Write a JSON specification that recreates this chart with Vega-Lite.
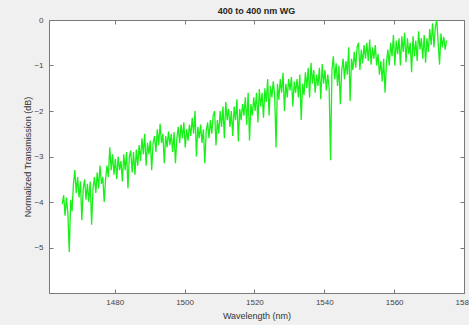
{
"$schema": "https://vega.github.io/schema/vega-lite/v6.json",
"width": 415, "height": 273,
"autosize": {"type": "none"},
"padding": {"left": 49, "top": 20, "right": 5, "bottom": 32},
"background": "#f0f0f0",
"config": {"view": {"fill": "white", "stroke": "#7a7a7a"}, "font": "Liberation Sans"},
"title": {"text": "400 to 400 nm WG", "fontSize": 9, "fontWeight": "bold", "color": "#262626", "offset": 0, "anchor": "middle"},
"data": {"values": [
{"w":1465.0,"t":-4.05},{"w":1465.4,"t":-3.85},{"w":1465.8,"t":-4.3},{"w":1466.2,"t":-3.9},{"w":1466.6,"t":-4.25},
{"w":1467.0,"t":-5.1},{"w":1467.4,"t":-3.95},{"w":1467.8,"t":-4.2},{"w":1468.2,"t":-3.6},{"w":1468.6,"t":-3.3},
{"w":1469.0,"t":-3.8},{"w":1469.4,"t":-3.45},{"w":1469.8,"t":-3.9},{"w":1470.2,"t":-3.55},{"w":1470.6,"t":-4.4},
{"w":1471.0,"t":-3.7},{"w":1471.4,"t":-3.5},{"w":1471.8,"t":-3.95},{"w":1472.2,"t":-3.6},{"w":1472.6,"t":-4.0},
{"w":1473.0,"t":-3.55},{"w":1473.4,"t":-4.5},{"w":1473.8,"t":-3.7},{"w":1474.2,"t":-3.45},{"w":1474.6,"t":-3.8},
{"w":1475.0,"t":-3.35},{"w":1475.4,"t":-3.7},{"w":1475.8,"t":-3.2},{"w":1476.2,"t":-3.6},{"w":1476.6,"t":-3.45},
{"w":1477.0,"t":-4.0},{"w":1477.4,"t":-3.5},{"w":1477.8,"t":-3.2},{"w":1478.2,"t":-3.45},{"w":1478.6,"t":-2.8},
{"w":1479.0,"t":-3.3},{"w":1479.4,"t":-2.95},{"w":1479.8,"t":-3.4},{"w":1480.2,"t":-3.05},{"w":1480.6,"t":-3.5},
{"w":1481.0,"t":-3.0},{"w":1481.4,"t":-3.3},{"w":1481.8,"t":-3.1},{"w":1482.2,"t":-3.55},{"w":1482.6,"t":-2.95},
{"w":1483.0,"t":-3.3},{"w":1483.4,"t":-2.9},{"w":1483.8,"t":-3.7},{"w":1484.2,"t":-3.0},{"w":1484.6,"t":-2.87},
{"w":1485.0,"t":-3.35},{"w":1485.4,"t":-2.9},{"w":1485.8,"t":-3.4},{"w":1486.2,"t":-2.85},{"w":1486.6,"t":-3.2},
{"w":1487.0,"t":-2.75},{"w":1487.4,"t":-3.1},{"w":1487.8,"t":-2.6},{"w":1488.2,"t":-2.95},{"w":1488.6,"t":-2.5},
{"w":1489.0,"t":-3.2},{"w":1489.4,"t":-2.7},{"w":1489.8,"t":-2.95},{"w":1490.2,"t":-2.65},{"w":1490.6,"t":-3.3},
{"w":1491.0,"t":-2.7},{"w":1491.4,"t":-2.55},{"w":1491.8,"t":-2.9},{"w":1492.2,"t":-2.4},{"w":1492.6,"t":-2.75},
{"w":1493.0,"t":-2.28},{"w":1493.4,"t":-2.7},{"w":1493.8,"t":-2.5},{"w":1494.2,"t":-3.15},{"w":1494.6,"t":-2.55},
{"w":1495.0,"t":-2.8},{"w":1495.4,"t":-2.45},{"w":1495.8,"t":-2.75},{"w":1496.2,"t":-2.5},{"w":1496.6,"t":-2.9},
{"w":1497.0,"t":-2.46},{"w":1497.4,"t":-3.15},{"w":1497.8,"t":-2.6},{"w":1498.2,"t":-2.35},{"w":1498.6,"t":-2.7},
{"w":1499.0,"t":-2.3},{"w":1499.4,"t":-2.6},{"w":1499.8,"t":-2.25},{"w":1500.2,"t":-2.8},{"w":1500.6,"t":-2.4},
{"w":1501.0,"t":-2.65},{"w":1501.4,"t":-2.3},{"w":1501.8,"t":-2.55},{"w":1502.2,"t":-2.15},{"w":1502.6,"t":-2.5},
{"w":1503.0,"t":-2.0},{"w":1503.4,"t":-3.0},{"w":1503.8,"t":-2.35},{"w":1504.2,"t":-2.6},{"w":1504.6,"t":-2.3},
{"w":1505.0,"t":-2.7},{"w":1505.4,"t":-2.4},{"w":1505.8,"t":-3.15},{"w":1506.2,"t":-2.45},{"w":1506.6,"t":-2.25},
{"w":1507.0,"t":-2.6},{"w":1507.4,"t":-2.2},{"w":1507.8,"t":-2.5},{"w":1508.2,"t":-2.1},{"w":1508.6,"t":-2.0},
{"w":1509.0,"t":-2.76},{"w":1509.4,"t":-2.2},{"w":1509.8,"t":-2.5},{"w":1510.2,"t":-2.0},{"w":1510.6,"t":-2.35},
{"w":1511.0,"t":-1.9},{"w":1511.4,"t":-2.6},{"w":1511.8,"t":-1.8},{"w":1512.2,"t":-2.2},{"w":1512.6,"t":-1.95},
{"w":1513.0,"t":-2.35},{"w":1513.4,"t":-2.0},{"w":1513.8,"t":-2.55},{"w":1514.2,"t":-1.9},{"w":1514.6,"t":-2.2},
{"w":1515.0,"t":-1.74},{"w":1515.4,"t":-2.67},{"w":1515.8,"t":-1.95},{"w":1516.2,"t":-2.2},{"w":1516.6,"t":-1.85},
{"w":1517.0,"t":-2.1},{"w":1517.4,"t":-1.7},{"w":1517.8,"t":-2.3},{"w":1518.2,"t":-1.6},{"w":1518.6,"t":-2.65},
{"w":1519.0,"t":-1.85},{"w":1519.4,"t":-2.1},{"w":1519.8,"t":-1.7},{"w":1520.2,"t":-2.0},{"w":1520.6,"t":-1.6},
{"w":1521.0,"t":-2.25},{"w":1521.4,"t":-1.52},{"w":1521.8,"t":-1.9},{"w":1522.2,"t":-1.6},{"w":1522.6,"t":-2.15},
{"w":1523.0,"t":-1.5},{"w":1523.4,"t":-1.8},{"w":1523.8,"t":-1.3},{"w":1524.2,"t":-2.1},{"w":1524.6,"t":-1.45},
{"w":1525.0,"t":-1.7},{"w":1525.4,"t":-1.35},{"w":1525.8,"t":-1.65},{"w":1526.2,"t":-2.8},{"w":1526.6,"t":-1.4},
{"w":1527.0,"t":-1.75},{"w":1527.4,"t":-1.3},{"w":1527.8,"t":-1.6},{"w":1528.2,"t":-1.16},{"w":1528.6,"t":-2.0},
{"w":1529.0,"t":-1.4},{"w":1529.4,"t":-1.7},{"w":1529.8,"t":-1.3},{"w":1530.2,"t":-1.55},{"w":1530.6,"t":-1.25},
{"w":1531.0,"t":-1.9},{"w":1531.4,"t":-1.35},{"w":1531.8,"t":-1.6},{"w":1532.2,"t":-1.3},{"w":1532.6,"t":-1.7},
{"w":1533.0,"t":-1.2},{"w":1533.4,"t":-2.2},{"w":1533.8,"t":-1.4},{"w":1534.2,"t":-1.65},{"w":1534.6,"t":-1.15},
{"w":1535.0,"t":-1.5},{"w":1535.4,"t":-1.05},{"w":1535.8,"t":-1.7},{"w":1536.2,"t":-0.94},{"w":1536.6,"t":-1.4},
{"w":1537.0,"t":-1.1},{"w":1537.4,"t":-1.6},{"w":1537.8,"t":-1.2},{"w":1538.2,"t":-1.45},{"w":1538.6,"t":-1.05},
{"w":1539.0,"t":-1.74},{"w":1539.4,"t":-0.97},{"w":1539.8,"t":-1.4},{"w":1540.2,"t":-1.1},{"w":1540.6,"t":-1.55},
{"w":1541.0,"t":-1.2},{"w":1541.4,"t":-1.5},{"w":1541.8,"t":-3.08},{"w":1542.2,"t":-1.1},{"w":1542.6,"t":-0.8},
{"w":1543.0,"t":-1.3},{"w":1543.4,"t":-0.95},{"w":1543.8,"t":-1.45},{"w":1544.2,"t":-1.0},{"w":1544.6,"t":-1.85},
{"w":1545.0,"t":-1.1},{"w":1545.4,"t":-0.85},{"w":1545.8,"t":-1.3},{"w":1546.2,"t":-0.9},{"w":1546.6,"t":-1.2},
{"w":1547.0,"t":-0.6},{"w":1547.4,"t":-1.78},{"w":1547.8,"t":-0.85},{"w":1548.2,"t":-1.1},{"w":1548.6,"t":-0.7},
{"w":1549.0,"t":-1.05},{"w":1549.4,"t":-0.6},{"w":1549.8,"t":-0.5},{"w":1550.2,"t":-1.1},{"w":1550.6,"t":-0.65},
{"w":1551.0,"t":-0.95},{"w":1551.4,"t":-0.55},{"w":1551.8,"t":-0.85},{"w":1552.2,"t":-0.5},{"w":1552.6,"t":-0.9},
{"w":1553.0,"t":-0.43},{"w":1553.4,"t":-0.98},{"w":1553.8,"t":-0.6},{"w":1554.2,"t":-0.85},{"w":1554.6,"t":-0.55},
{"w":1555.0,"t":-1.0},{"w":1555.4,"t":-0.75},{"w":1555.8,"t":-1.2},{"w":1556.2,"t":-0.9},{"w":1556.6,"t":-1.35},
{"w":1557.0,"t":-0.85},{"w":1557.4,"t":-1.6},{"w":1557.8,"t":-0.95},{"w":1558.2,"t":-0.65},{"w":1558.6,"t":-1.0},
{"w":1559.0,"t":-0.5},{"w":1559.4,"t":-0.8},{"w":1559.8,"t":-0.33},{"w":1560.2,"t":-1.0},{"w":1560.6,"t":-0.45},
{"w":1561.0,"t":-0.75},{"w":1561.4,"t":-0.4},{"w":1561.8,"t":-1.0},{"w":1562.2,"t":-0.36},{"w":1562.6,"t":-0.7},
{"w":1563.0,"t":-0.28},{"w":1563.4,"t":-0.93},{"w":1563.8,"t":-0.4},{"w":1564.2,"t":-0.75},{"w":1564.6,"t":-0.5},
{"w":1565.0,"t":-1.15},{"w":1565.4,"t":-0.36},{"w":1565.8,"t":-0.8},{"w":1566.2,"t":-0.45},{"w":1566.6,"t":-0.9},
{"w":1567.0,"t":-0.25},{"w":1567.4,"t":-0.65},{"w":1567.8,"t":-0.4},{"w":1568.2,"t":-0.85},{"w":1568.6,"t":-0.33},
{"w":1569.0,"t":-0.94},{"w":1569.4,"t":-0.4},{"w":1569.8,"t":-0.7},{"w":1570.2,"t":-0.2},{"w":1570.6,"t":-0.55},
{"w":1571.0,"t":-0.07},{"w":1571.4,"t":-0.6},{"w":1571.8,"t":-0.15},{"w":1572.2,"t":0.0},{"w":1572.6,"t":-0.5},
{"w":1573.0,"t":-0.98},{"w":1573.4,"t":-0.3},{"w":1573.8,"t":-0.6},{"w":1574.2,"t":-0.37},{"w":1574.6,"t":-0.65},
{"w":1575.0,"t":-0.45}
]},
"layer": [
{"mark": {"type": "line", "color": "#19f019", "strokeWidth": 1.3, "clip": true},
 "encoding": {
  "x": {"field": "w", "type": "quantitative",
        "scale": {"domain": [1461.2, 1580], "nice": false, "zero": false},
        "axis": {"values": [1480, 1500, 1520, 1540, 1560, 1580], "format": "d", "grid": false, "tickSize": -4, "labelPadding": 9, "domainColor": "#7a7a7a", "tickColor": "#7a7a7a", "labelColor": "#444444", "labelFontSize": 8, "title": "Wavelength (nm)", "titleFontSize": 9, "titleFontWeight": "normal", "titleColor": "#333333", "titlePadding": 5, "labelFlush": false, "labelOverlap": false}},
  "y": {"field": "t", "type": "quantitative",
        "scale": {"domain": [-6, 0], "nice": false, "zero": false},
        "axis": {"values": [0, -1, -2, -3, -4, -5], "grid": false, "tickSize": -4, "labelPadding": 10, "domainColor": "#7a7a7a", "tickColor": "#7a7a7a", "labelColor": "#444444", "labelFontSize": 8, "title": "Normalized Transmission (dB)", "titleFontSize": 9, "titleFontWeight": "normal", "titleColor": "#333333", "titlePadding": 1, "labelFlush": false, "labelOverlap": false}}
 }},
{"mark": {"type": "line", "opacity": 0},
 "encoding": {
  "x": {"field": "w", "type": "quantitative",
        "axis": {"orient": "top", "values": [1480, 1500, 1520, 1540, 1560, 1580], "grid": false, "tickSize": -4, "labels": false, "title": null, "domainColor": "#7a7a7a", "tickColor": "#7a7a7a"}},
  "y": {"field": "t", "type": "quantitative",
        "axis": {"orient": "right", "values": [0, -1, -2, -3, -4, -5], "grid": false, "tickSize": -4, "labels": false, "title": null, "domainColor": "#7a7a7a", "tickColor": "#7a7a7a"}}
 }}
],
"resolve": {"axis": {"x": "independent", "y": "independent"}}
}
